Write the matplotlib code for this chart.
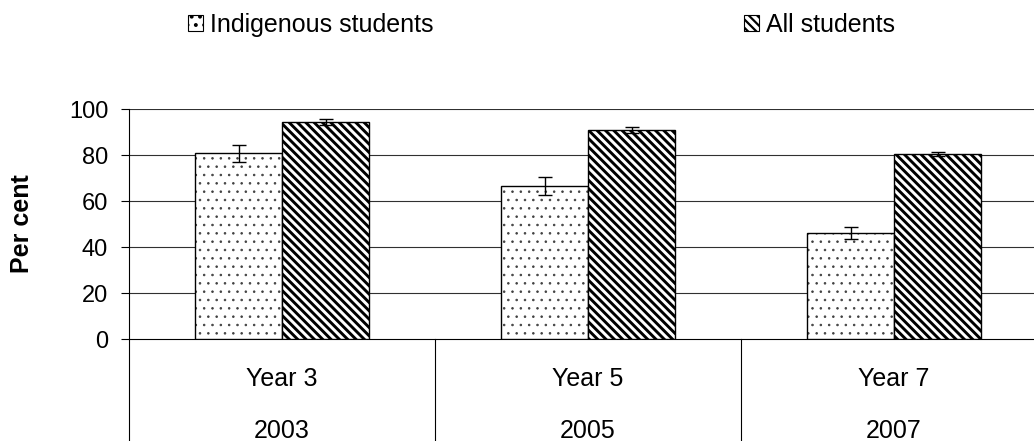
import numpy as np
import matplotlib as mpl
from matplotlib import pyplot as plt
from matplotlib.patches import Patch

plt.rcParams['font.family'] = ['Liberation Sans', 'DejaVu Sans']

#   Dati
years = ['Year 3', 'Year 5', 'Year 7']
test_years = ['2003', '2005', '2007']
indigenous = [80.9, 66.7, 46.2]
indigenous_err = [3.7, 4.0, 2.7]
all_students = [94.3, 91.0, 80.4]
all_err = [1.3, 1.4, 0.9]
series_names = ['Indigenous students', 'All students']

W, H = 1034, 441
fig = plt.figure(figsize=(W / 100, H / 100), dpi=100)
# asse: x da 129 a 1047 px (oltre il bordo), y da 109 a 339 px
ax = fig.add_axes([129 / W, (H - 339.3) / H, (1047 - 129) / W, 230 / H])

x = np.arange(len(years)) + 0.5
w = 87 / 306
dots = '..'
stripes = '\\' * 4

#   Barre: puntini grigi con contorno nero
with mpl.rc_context({'hatch.linewidth': 0.6}):
    ax.bar(x - w / 2, indigenous, w, color='white', edgecolor='#404040',
           hatch=dots, linewidth=0, zorder=3)
ax.bar(x - w / 2, indigenous, w, fill=False, edgecolor='black', linewidth=1.0, zorder=3)
with mpl.rc_context({'hatch.linewidth': 2.1}):
    ax.bar(x + w / 2, all_students, w, color='white', edgecolor='black',
           hatch=stripes, linewidth=1.0, zorder=3)

ax.errorbar(x - w / 2, indigenous, yerr=indigenous_err, fmt='none',
            ecolor='black', elinewidth=1.0, capsize=4.8, capthick=1.0, zorder=4)
ax.errorbar(x + w / 2, all_students, yerr=all_err, fmt='none',
            ecolor='black', elinewidth=1.0, capsize=4.8, capthick=1.0, zorder=4)

ax.set_xlim(0, 3)
ax.set_ylim(0, 100)
ax.set_yticks([0, 20, 40, 60, 80, 100])
ax.set_xticks([])
ax.tick_params(axis='y', length=6, width=0.8, pad=9, labelsize=17)
for yv in [20, 40, 60, 80, 100]:
    ax.axhline(yv, color='#303030', linewidth=0.8, zorder=1)
for s in ['top', 'right']:
    ax.spines[s].set_visible(False)
ax.spines['left'].set_linewidth(0.8)
ax.spines['bottom'].set_linewidth(0.8)

#   Tabella delle categorie sotto l'asse
trans = ax.get_xaxis_transform()
for xv in range(len(years) + 1):
    ax.plot([xv, xv], [0, -0.5], color='black', linewidth=0.8,
            transform=trans, clip_on=False)
for xc, yr, ty in zip(x, years, test_years):
    ax.text(xc, -0.203, yr, transform=trans, ha='center', va='baseline', fontsize=18)
    ax.text(xc, -0.429, ty, transform=trans, ha='center', va='baseline', fontsize=18)

fig.text(22 / W, 1 - 224 / H, 'Per cent', rotation=90, ha='center', va='center',
         fontsize=18, fontweight='bold')

#   Legenda
with mpl.rc_context({'hatch.linewidth': 1.6}):
    handles = [Patch(facecolor='white', edgecolor='black', hatch=dots, linewidth=0.8),
               Patch(facecolor='white', edgecolor='black', hatch=stripes, linewidth=0.8)]
    fig.legend(handles, series_names, loc='center left', ncol=2,
               bbox_to_anchor=(188 / W, 1 - 25 / H), frameon=False, fontsize=18,
               handlelength=0.6, handleheight=0.6, handletextpad=0.3,
               columnspacing=12.4, borderpad=0, borderaxespad=0)

fig.savefig('out.png', dpi=100)
